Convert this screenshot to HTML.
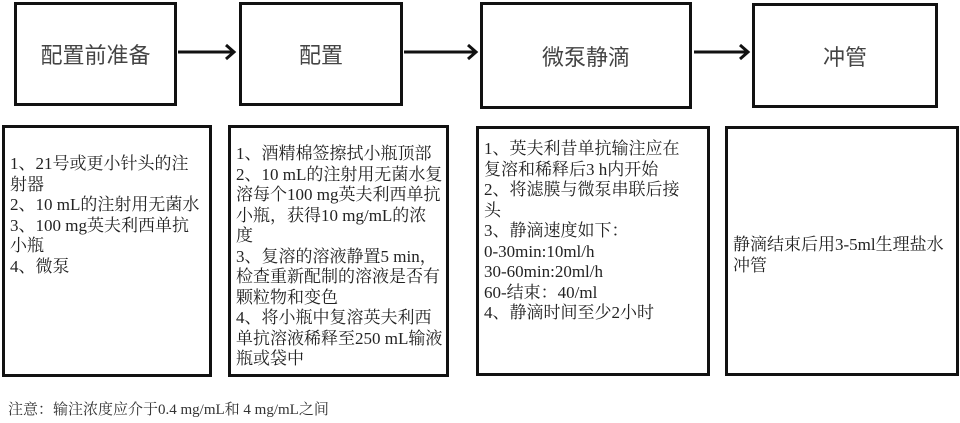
<!DOCTYPE html>
<html><head><meta charset="utf-8"><style>
body{margin:0;width:960px;height:423px;background:#fff;position:relative;overflow:hidden;font-family:"Liberation Serif","Noto Serif CJK SC",serif;color:#222}
.b{position:absolute;border:3px solid #111;box-sizing:border-box}
.h{display:flex;align-items:center;justify-content:center;font-family:"Liberation Sans","Noto Sans CJK SC",sans-serif;font-size:22px;color:#444}
.t{font-size:17px;line-height:20.5px;padding:0 0 0 5px;white-space:nowrap}
.n{position:absolute;left:8px;top:398px;font-size:15px;color:#333}
</style></head><body>
<div class="b h" style="left:14px;top:2px;width:163px;height:104px">配置前准备</div>
<div class="b h" style="left:239px;top:2px;width:164px;height:104px">配置</div>
<div class="b h" style="left:480px;top:2px;width:212px;height:107px">微泵静滴</div>
<div class="b h" style="left:752px;top:3px;width:186px;height:105px">冲管</div>
<svg style="position:absolute;left:0;top:0" width="960" height="120">
<g stroke="#111" stroke-width="3" fill="none">
<line x1="178" y1="52" x2="232" y2="52"/><polyline points="226,45 234,52 226,59"/>
<line x1="404" y1="52" x2="474" y2="52"/><polyline points="468,45 476,52 468,59"/>
<line x1="694" y1="52" x2="746" y2="52"/><polyline points="740,45 748,52 740,59"/>
</g></svg>
<div class="b t" style="left:2px;top:125px;width:210px;height:252px;padding-top:26px">1、21号或更小针头的注<br>射器<br>2、10 mL的注射用无菌水<br>3、100 mg英夫利西单抗<br>小瓶<br>4、微泵</div>
<div class="b t" style="left:228px;top:125px;width:221px;height:252px;padding-top:16px">1、酒精棉签擦拭小瓶顶部<br>2、10 mL的注射用无菌水复<br>溶每个100 mg英夫利西单抗<br>小瓶，获得10 mg/mL的浓<br>度<br>3、复溶的溶液静置5 min，<br>检查重新配制的溶液是否有<br>颗粒物和变色<br>4、将小瓶中复溶英夫利西<br>单抗溶液稀释至250 mL输液<br>瓶或袋中</div>
<div class="b t" style="left:476px;top:126px;width:234px;height:250px;padding-top:10px">1、英夫利昔单抗输注应在<br>复溶和稀释后3 h内开始<br>2、将滤膜与微泵串联后接<br>头<br>3、静滴速度如下：<br>0-30min:10ml/h<br>30-60min:20ml/h<br>60-结束：40/ml<br>4、静滴时间至少2小时</div>
<div class="b t" style="left:725px;top:126px;width:234px;height:250px;padding-top:106px">静滴结束后用3-5ml生理盐水<br>冲管</div>
<div class="n">注意：输注浓度应介于0.4 mg/mL和 4 mg/mL之间</div>
</body></html>
